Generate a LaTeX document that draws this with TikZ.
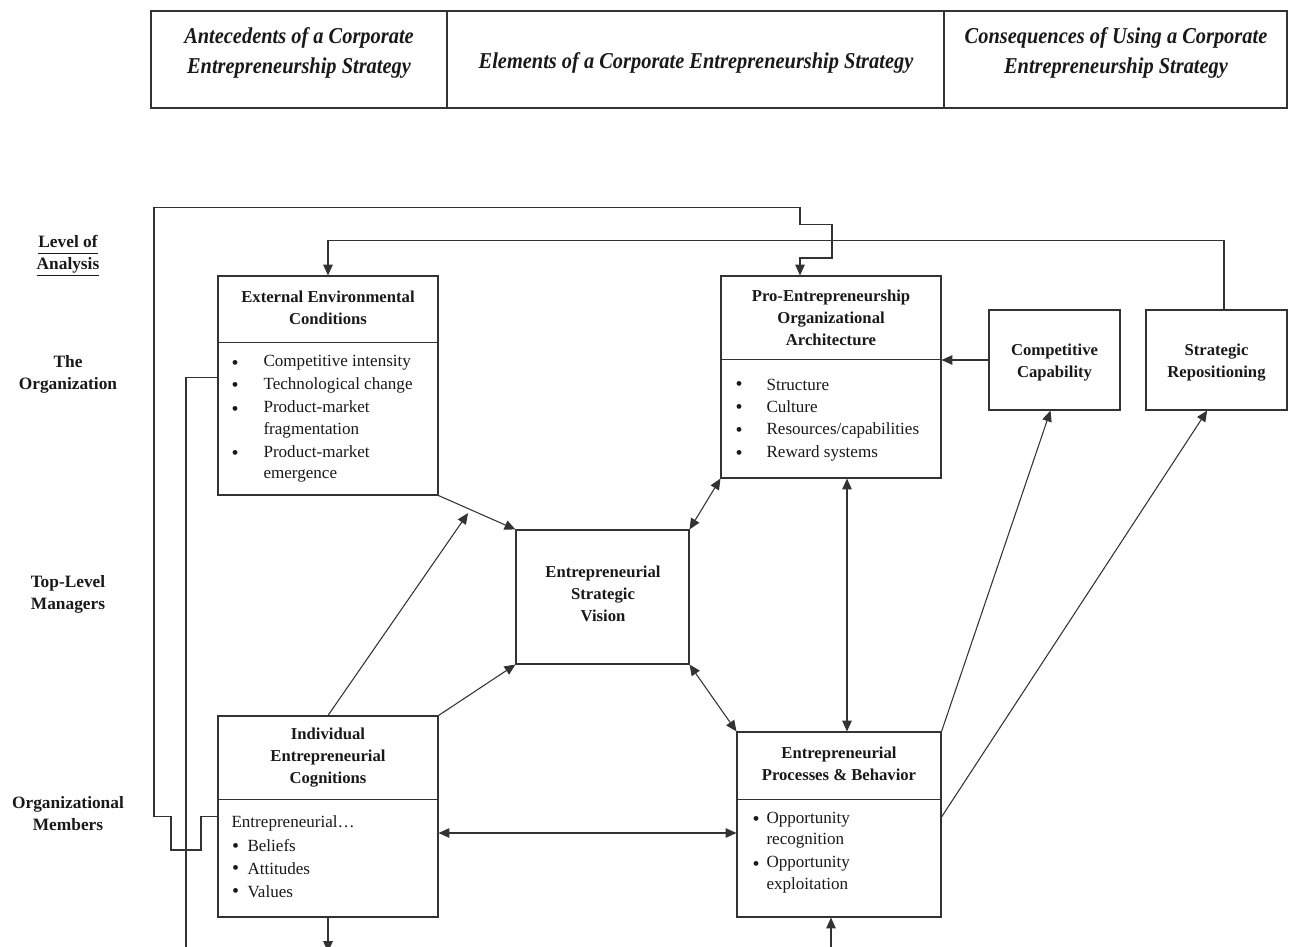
\documentclass[tikz,border=0pt]{standalone}
\usepackage{fontspec}
\setmainfont{Liberation Serif}
\newfontfamily\hdrfam[FakeStretch=0.9]{Liberation Serif}
\usetikzlibrary{arrows.meta,fit,calc}

\newcommand\bodyf{\fontsize{12.8}{16}\selectfont}
\newcommand\bulf{\fontsize{15}{16}\selectfont}
\newcommand\ttlf{\bfseries\fontsize{12.5}{16.5}\selectfont}
\newcommand\lvlf{\bfseries\fontsize{13}{16.5}\selectfont}
\newcommand\hdrf{\hdrfam\bfseries\itshape\fontsize{17}{22.5}\selectfont}
\newcommand\ulab[1]{\underline{#1\vphantom{y}}}

\begin{document}
\begin{tikzpicture}[x=0.75pt,y=-0.75pt,
  line width=0.8pt,
  ln/.style={draw=black!80, line width=0.8pt},
  box/.style={draw=black!80, line width=0.8pt, inner sep=0pt},
  ttl/.style={font=\ttlf, align=center, inner sep=0pt, text=black!90, yshift=-1.5pt},
  hdr/.style={font=\hdrf, align=center, inner sep=0pt, text=black!90, yshift=-1.5pt},
  lvl/.style={font=\lvlf, align=center, inner sep=0pt, text=black!90, yshift=-1.5pt},
  txt/.style={font=\bodyf, align=left, anchor=west, inner sep=0pt, text=black!90, yshift=-1.5pt},
  bul/.style={font=\bulf, inner sep=0pt, text=black!90, yshift=-2.8pt},
  arr/.style={ln, -{Triangle[length=8.2pt,width=7.2pt]}},
  darr/.style={ln, {Triangle[length=8.2pt,width=7.2pt]}-{Triangle[length=8.2pt,width=7.2pt]}}
]
\useasboundingbox (0,0) rectangle (1292,946);
\clip (0,0) rectangle (1292,946);

% ---------- header ----------
\node[box, fit={(151,11)(447,108)}] (h1) {};
\node[box, fit={(447,11)(944,108)}] (h2) {};
\node[box, fit={(944,11)(1287,108)}] (h3) {};
\node[hdr] (h1t) at (299,51) {Antecedents of a Corporate\\Entrepreneurship Strategy};
\node[hdr] (h2t) at (696,61) {Elements of a Corporate Entrepreneurship Strategy};
\node[hdr] (h3t) at (1116,51) {Consequences of Using a Corporate\\Entrepreneurship Strategy};

% ---------- level labels ----------
\node[lvl] (l0) at (68,254) {\ulab{Level of}\\\ulab{Analysis}};
\node[lvl] (l1) at (68,372.5) {The\\Organization};
\node[lvl] (l2) at (68,592) {Top-Level\\Managers};
\node[lvl] (l3) at (68,812) {Organizational\\Members};

% ---------- External Environmental Conditions ----------
\node[box, fit={(218,276)(438,495)}] (eec) {};
\draw[ln] ([yshift=-50.6pt]eec.north west) -- ([yshift=-50.6pt]eec.north east);
\node[ttl] (eect) at (328,305.5) {External Environmental\\Conditions};
\node[bul] (eecb1) at (235,361) {\textbullet};
\node[txt] (eeci1) at (263,361) {Competitive intensity};
\node[bul] (eecb2) at (235,383.5) {\textbullet};
\node[txt] (eeci2) at (263,383.5) {Technological change};
\node[bul] (eecb3) at (235,407) {\textbullet};
\node[txt] (eeci3) at (263,417.5) {Product-market\\fragmentation};
\node[bul] (eecb4) at (235,451.5) {\textbullet};
\node[txt] (eeci4) at (263,462) {Product-market\\emergence};

% ---------- Pro-Entrepreneurship Organizational Architecture ----------
\node[box, fit={(721,276)(941,478)}] (peoa) {};
\draw[ln] ([yshift=-63pt]peoa.north west) -- ([yshift=-63pt]peoa.north east);
\node[ttl] (peoat) at (831,316) {Pro-Entrepreneurship\\Organizational\\Architecture};
\node[bul] (peoab1) at (739,382.5) {\textbullet};
\node[txt] (peoai1) at (766,382.5) {Structure};
\node[bul] (peoab2) at (739,405) {\textbullet};
\node[txt] (peoai2) at (766,405) {Culture};
\node[bul] (peoab3) at (739,428) {\textbullet};
\node[txt] (peoai3) at (766,428) {Resources/capabilities};
\node[bul] (peoab4) at (739,451) {\textbullet};
\node[txt] (peoai4) at (766,451) {Reward systems};

% ---------- Competitive Capability / Strategic Repositioning ----------
\node[box, fit={(989,310)(1120,410)}] (cc) {};
\node[ttl] (cct) at (1054.5,361) {Competitive\\Capability};
\node[box, fit={(1146,310)(1287,410)}] (sr) {};
\node[ttl] (srt) at (1216.5,361) {Strategic\\Repositioning};

% ---------- Entrepreneurial Strategic Vision ----------
\node[box, fit={(516,530)(689,664)}] (esv) {};
\node[ttl] (esvt) at (603,591.5) {Entrepreneurial\\Strategic\\Vision};

% ---------- Individual Entrepreneurial Cognitions ----------
\node[box, fit={(218,716)(438,917)}] (iec) {};
\draw[ln] ([yshift=-63pt]iec.north west) -- ([yshift=-63pt]iec.north east);
\node[ttl] (iect) at (328,755.5) {Individual\\Entrepreneurial\\Cognitions};
\node[txt] (iec0) at (231,821) {Entrepreneurial…};
\node[bul] (iecb1) at (235.5,844) {\textbullet};
\node[txt] (ieci1) at (247,844) {Beliefs};
\node[bul] (iecb2) at (235.5,866.5) {\textbullet};
\node[txt] (ieci2) at (247,866.5) {Attitudes};
\node[bul] (iecb3) at (235.5,889.5) {\textbullet};
\node[txt] (ieci3) at (247,889.5) {Values};

% ---------- Entrepreneurial Processes & Behavior ----------
\node[box, fit={(737,732)(941,917)}] (epb) {};
\draw[ln] ([yshift=-51pt]epb.north west) -- ([yshift=-51pt]epb.north east);
\node[ttl] (epbt) at (839,762) {Entrepreneurial\\Processes \& Behavior};
\node[bul] (epbb1) at (756,817.5) {\textbullet};
\node[txt] (epbi1) at (766,828) {Opportunity\\recognition};
\node[bul] (epbb2) at (756,862) {\textbullet};
\node[txt] (epbi2) at (766,872.5) {Opportunity\\exploitation};

% ---------- helper coordinates ----------
\coordinate (yA) at (0,833);
\coordinate (yB) at (0,817);
\coordinate (yC) at (0,377.5);
\coordinate (xV) at (847,0);
\coordinate (offL) at (186,970);
\coordinate (offB1) at (328,952);
\coordinate (offB2) at (831,970);
\coordinate (m1) at ($(eec.south east)!0.415!(esv.north west)$);

% ---------- connectors ----------
\draw[arr] (eec.south east) -- (esv.north west);
\draw[arr, shorten >=3.2pt] (iec.north) -- (m1);
\draw[arr] (iec.north east) -- (esv.south west);
\draw[darr] (esv.north east) -- (peoa.south west);
\draw[darr] (esv.south east) -- (epb.north west);
\draw[darr] (peoa.south -| xV) -- (epb.north -| xV);
\draw[darr] (iec.east |- yA) -- (epb.west |- yA);
\draw[arr] (cc.west) -- (peoa.east |- cc.west);
\draw[arr] (epb.north east) -- ([xshift=-3pt]cc.south);
\draw[arr] (epb.east |- yB) -- ([xshift=-7pt]sr.south);

% feedback from Strategic Repositioning to External Environmental Conditions
\draw[arr] ([xshift=5.6pt]sr.north) |- ([yshift=26.25pt]eec.north) -- (eec.north);

% outer loop from Individual Entrepreneurial Cognitions to Pro-Entrepreneurship Org. Architecture
\draw[arr] (iec.west) -- (201,816.5) -- (201,850) -- (171,850) -- (171,816.5)
  -- (154,816.5) -- (154,207.5) -- (800,207.5) -- (800,224.5) -- (832,224.5)
  -- (832,258) -- (800,258) -- ([xshift=-23.25pt]peoa.north);

% line leaving External Environmental Conditions downward
\draw[ln] (eec.west |- yC) -| (offL);

% arrows leaving / entering at the bottom edge
\draw[arr] (iec.south) -- (offB1);
\draw[arr] (offB2) -- (epb.south -| offB2);
\end{tikzpicture}
\end{document}
